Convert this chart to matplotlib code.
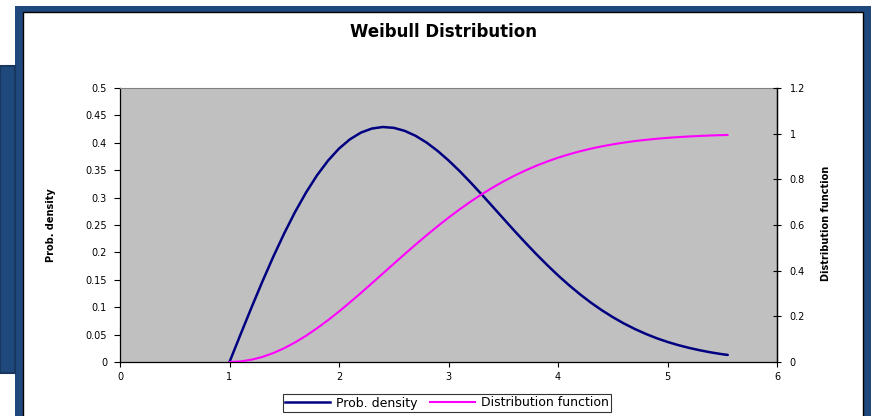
import matplotlib
matplotlib.use("Agg")
import matplotlib.pyplot as plt
from matplotlib.patches import Rectangle
from matplotlib.lines import Line2D

# Weibull curve samples
x_values = [1.0, 1.1, 1.2, 1.3, 1.4, 1.5, 1.6, 1.7, 1.8, 1.9,
            2.0, 2.1, 2.2, 2.3, 2.4, 2.5, 2.6, 2.7, 2.8, 2.9,
            3.0, 3.1, 3.2, 3.3, 3.4, 3.5, 3.6, 3.7, 3.8, 3.9,
            4.0, 4.1, 4.2, 4.3, 4.4, 4.5, 4.6, 4.7, 4.8, 4.9,
            5.0, 5.1, 5.2, 5.3, 5.4, 5.5, 5.55]
prob_density = [0.0, 0.0499, 0.0990, 0.1467, 0.1922, 0.2349, 0.2742, 0.3096, 0.3409, 0.3675,
                0.3894, 0.4064, 0.4186, 0.4260, 0.4288, 0.4273, 0.4218, 0.4127, 0.4004, 0.3853,
                0.3679, 0.3487, 0.3280, 0.3064, 0.2843, 0.2620, 0.2398, 0.2182, 0.1972, 0.1772,
                0.1581, 0.1403, 0.1237, 0.1084, 0.0945, 0.0819, 0.0705, 0.0604, 0.0514, 0.0435,
                0.0366, 0.0307, 0.0256, 0.0212, 0.0174, 0.0142, 0.0129]
distribution = [0.0, 0.0025, 0.0100, 0.0222, 0.0392, 0.0606, 0.0861, 0.1153, 0.1479, 0.1833,
                0.2212, 0.2611, 0.3023, 0.3446, 0.3874, 0.4302, 0.4727, 0.5145, 0.5551, 0.5944,
                0.6321, 0.6679, 0.7018, 0.7335, 0.7631, 0.7904, 0.8155, 0.8384, 0.8591, 0.8778,
                0.8946, 0.9095, 0.9227, 0.9343, 0.9444, 0.9532, 0.9608, 0.9674, 0.9729, 0.9777,
                0.9817, 0.9850, 0.9878, 0.9902, 0.9921, 0.9937, 0.9944]

x_ticks = [0, 1, 2, 3, 4, 5, 6]
x_tick_labels = ["0", "1", "2", "3", "4", "5", "6"]
left_ticks = [0, 0.05, 0.1, 0.15, 0.2, 0.25, 0.3, 0.35, 0.4, 0.45, 0.5]
left_tick_labels = ["0", "0.05", "0.1", "0.15", "0.2", "0.25", "0.3", "0.35", "0.4", "0.45", "0.5"]
right_ticks = [0, 0.2, 0.4, 0.6, 0.8, 1.0, 1.2]
right_tick_labels = ["0", "0.2", "0.4", "0.6", "0.8", "1", "1.2"]

W, H = 871, 416
fig = plt.figure(figsize=(W / 100, H / 100), dpi=100)
fig.patch.set_facecolor("white")


def box(x0, y0, x1, y1, **kw):
    """Rectangle given in pixel coordinates measured from the top-left corner."""
    r = Rectangle((x0 / W, 1 - y1 / H), (x1 - x0) / W, (y1 - y0) / H,
                  transform=fig.transFigure, **kw)
    fig.add_artist(r)
    return r


# slide background: blue frame and side panel
box(15, 6, 871, 420, facecolor="#1f497d", edgecolor="none", zorder=-3)
box(0, 66, 15, 373, facecolor="#1f497d", edgecolor="#17375e", linewidth=1.5, zorder=-3)
# white chart area
box(22.5, 11.5, 863, 430, facecolor="white", edgecolor="black", linewidth=1.0, zorder=-2)

font = "DejaVu Sans"

ax = fig.add_axes([120 / W, 1 - 362 / H, 657 / W, 274 / H])
ax.set_facecolor("#c0c0c0")
ax.plot(x_values, prob_density, color="#000080", linewidth=1.8, solid_capstyle="round")
ax.set_xlim(0, 6)
ax.set_ylim(0, 0.5)
ax.set_xticks(x_ticks)
ax.set_xticklabels(x_tick_labels, fontsize=7, fontfamily=font)
ax.set_yticks(left_ticks)
ax.set_yticklabels(left_tick_labels, fontsize=7, fontfamily=font)
ax.tick_params(axis="x", direction="out", length=3.5, width=0.8, pad=4)
ax.tick_params(axis="y", direction="out", length=4.3, width=0.8, pad=5)
for side in ("left", "bottom", "right"):
    ax.spines[side].set_color("black")
    ax.spines[side].set_linewidth(0.9)
ax.spines["top"].set_color("#808080")
ax.spines["top"].set_linewidth(0.8)

ax2 = ax.twinx()
ax2.plot(x_values, distribution, color="#ff00ff", linewidth=1.5, solid_capstyle="round")
ax2.set_ylim(0, 1.2)
ax2.set_yticks(right_ticks)
ax2.set_yticklabels(right_tick_labels, fontsize=7, fontfamily=font)
ax2.tick_params(axis="y", direction="inout", length=6, width=0.8, pad=6)
for side in ("left", "bottom", "top"):
    ax2.spines[side].set_visible(False)
ax2.spines["right"].set_color("black")
ax2.spines["right"].set_linewidth(0.9)

fig.text(443 / W, 1 - 32 / H, "Weibull Distribution", ha="center", va="center",
         fontsize=12, fontweight="bold", fontfamily=font)
fig.text(51 / W, 1 - 225 / H, "Prob. density", ha="center", va="center",
         rotation=90, fontsize=7, fontweight="bold", fontfamily=font)
fig.text(826 / W, 1 - 223 / H, "Distribution function", ha="center", va="center",
         rotation=90, fontsize=7, fontweight="bold", fontfamily=font)

handles = [Line2D([], [], color="#000080", linewidth=1.8),
           Line2D([], [], color="#ff00ff", linewidth=1.5)]
leg = fig.legend(handles, ["Prob. density", "Distribution function"],
                 loc="center", bbox_to_anchor=(447 / W, 1 - 403 / H),
                 bbox_transform=fig.transFigure, ncol=2, frameon=True,
                 fancybox=False, shadow=False, prop={"family": font, "size": 9},
                 handlelength=3.6, handletextpad=0.45, columnspacing=1.0,
                 borderpad=0.2, borderaxespad=0)
leg.get_frame().set_edgecolor("black")
leg.get_frame().set_linewidth(0.8)
leg.get_frame().set_facecolor("white")

fig.savefig("out.png", dpi=100)
